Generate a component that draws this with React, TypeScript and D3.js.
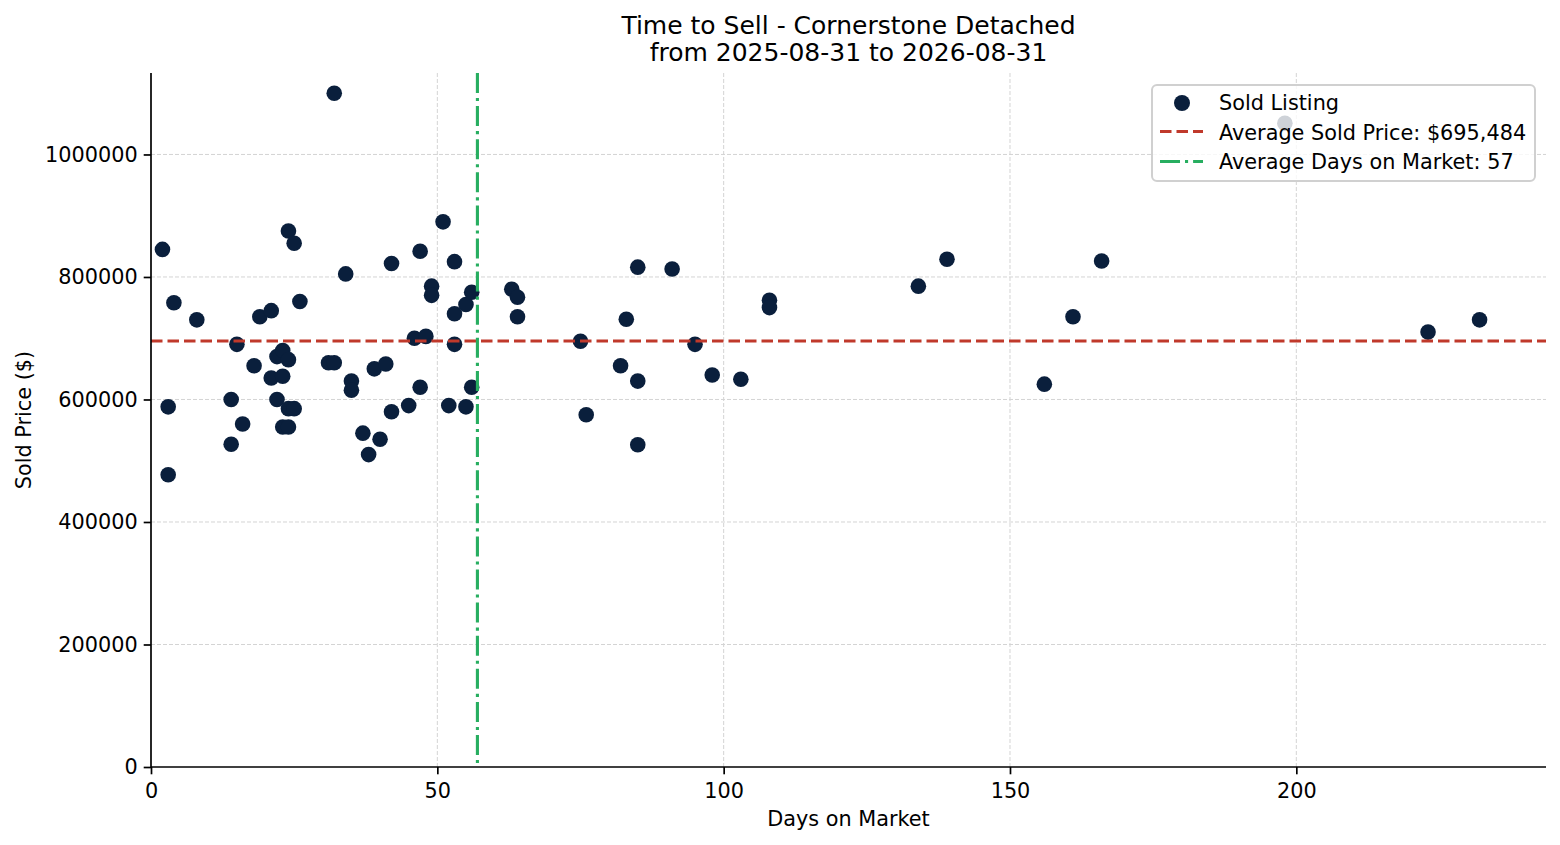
import React, { useEffect, useRef } from 'react';
import * as d3 from 'd3';

// Sold listings: days on market / sold price
const days = [
  2, 3, 3, 4, 8, 14, 14, 15, 16, 18, 19, 21, 21, 22, 22, 23, 23, 23, 24, 24,
  25, 24, 25, 24, 26, 32, 31, 32, 34, 35, 35, 37, 38, 39, 40, 41, 42, 42, 45, 46,
  47, 47, 48, 49, 49, 51, 52, 53, 53, 53, 55, 55, 56, 56, 63, 64, 64, 75, 76, 82,
  83, 85, 85, 85, 91, 95, 98, 103, 108, 108, 134, 139, 156, 161, 166, 198, 223, 232,
];
const prices = [
  845000, 588000, 477000, 758000, 730000, 600000, 527000, 690000, 560000, 655000,
  735000, 745000, 635000, 600000, 670000, 680000, 638000, 555000, 665000, 875000,
  855000, 585000, 585000, 555000, 760000, 1100000, 660000, 660000, 805000, 630000,
  615000, 545000, 510000, 650000, 535000, 658000, 822000, 580000, 590000, 700000,
  842000, 620000, 703000, 785000, 770000, 890000, 590000, 825000, 740000, 690000,
  755000, 588000, 775000, 620000, 780000, 767000, 735000, 695000, 575000, 655000,
  731000, 816000, 630000, 526000, 813000, 690000, 640000, 633000, 762000, 750000,
  785000, 829000, 625000, 735000, 826000, 1051000, 710000, 730000,
];

const avgPrice = 695484;
const avgDays = 57;

const xTicks = [0, 50, 100, 150, 200];
const yTicks = [0, 200000, 400000, 600000, 800000, 1000000];
const xMax = 243.6;
const yMax = 1133000;

const titleLines = ['Time to Sell - Cornerstone Detached', 'from 2025-08-31 to 2026-08-31'];
const legendLabels = [
  'Sold Listing',
  'Average Sold Price: $695,484',
  'Average Days on Market: 57',
];

const W = 1560;
const H = 845;
const FONT = '"DejaVu Sans", sans-serif';
const DOT = '#0a1f3c';
const RED = '#c0392b';
const GREEN = '#27ae60';

const App: React.FC = () => {
  const svgRef = useRef<SVGSVGElement>(null);

  useEffect(() => {
    if (!svgRef.current) return;
    document.body.style.margin = '0';

    const margin = { top: 73, right: 14, bottom: 78, left: 151 };
    const width = W - margin.left - margin.right;
    const height = H - margin.top - margin.bottom;

    const svg = d3.select(svgRef.current);
    svg.selectAll('*').remove();

    const g = svg.append('g').attr('transform', `translate(${margin.left},${margin.top})`);

    const x = d3.scaleLinear().domain([0, xMax]).range([0, width]);
    const y = d3.scaleLinear().domain([0, yMax]).range([height, 0]);

    // grid
    g.append('g')
      .selectAll('line')
      .data(xTicks.slice(1))
      .enter()
      .append('line')
      .attr('x1', (d) => x(d))
      .attr('x2', (d) => x(d))
      .attr('y1', 0)
      .attr('y2', height)
      .attr('stroke', '#d4d4d4')
      .attr('stroke-width', 1)
      .attr('stroke-dasharray', '4,2');
    g.append('g')
      .selectAll('line')
      .data(yTicks.slice(1))
      .enter()
      .append('line')
      .attr('x1', 0)
      .attr('x2', width)
      .attr('y1', (d) => y(d))
      .attr('y2', (d) => y(d))
      .attr('stroke', '#d4d4d4')
      .attr('stroke-width', 1)
      .attr('stroke-dasharray', '4,2');

    // points
    g.append('g')
      .selectAll('circle')
      .data(days.map((d, i) => [d, prices[i]]))
      .enter()
      .append('circle')
      .attr('cx', (d) => x(d[0]))
      .attr('cy', (d) => y(d[1]))
      .attr('r', 7.8)
      .attr('fill', DOT);

    // average lines
    g.append('line')
      .attr('x1', 0)
      .attr('x2', width)
      .attr('y1', y(avgPrice))
      .attr('y2', y(avgPrice))
      .attr('stroke', RED)
      .attr('stroke-width', 3.1)
      .attr('stroke-dasharray', '11.5,5');
    g.append('line')
      .attr('x1', x(avgDays))
      .attr('x2', x(avgDays))
      .attr('y1', 0)
      .attr('y2', height)
      .attr('stroke', GREEN)
      .attr('stroke-width', 3.1)
      .attr('stroke-dasharray', '20,5,3.1,5');

    // axes
    const xAxis = d3.axisBottom(x).tickValues(xTicks).tickSize(7.3).tickPadding(9).tickFormat(d3.format('d'));
    const yAxis = d3.axisLeft(y).tickValues(yTicks).tickSize(7.3).tickPadding(6).tickFormat(d3.format('d'));

    const gx = g.append('g').attr('transform', `translate(0,${height})`).call(xAxis);
    const gy = g.append('g').call(yAxis);
    [gx, gy].forEach((a) => {
      a.select('.domain').attr('stroke', '#000').attr('stroke-width', 1.7);
      a.selectAll('.tick line').attr('stroke', '#000').attr('stroke-width', 1.7);
      a.selectAll('.tick text')
        .attr('fill', '#000')
        .attr('font-family', FONT)
        .attr('font-size', '20.8px');
    });
    gx.select('.domain').attr('d', `M0,0H${width}`);
    gy.select('.domain').attr('d', `M0,${height}V0`);

    // labels
    svg.append('text')
      .attr('x', margin.left + width / 2)
      .attr('y', 826)
      .attr('text-anchor', 'middle')
      .attr('font-family', FONT)
      .attr('font-size', '20.8px')
      .attr('fill', '#000')
      .text('Days on Market');

    svg.append('text')
      .attr('transform', `translate(30.5,${margin.top + height / 2}) rotate(-90)`)
      .attr('text-anchor', 'middle')
      .attr('font-family', FONT)
      .attr('font-size', '20.8px')
      .attr('fill', '#000')
      .text('Sold Price ($)');

    svg.append('g')
      .selectAll('text')
      .data(titleLines)
      .enter()
      .append('text')
      .attr('x', margin.left + width / 2)
      .attr('y', (_, i) => 33.5 + i * 27.5)
      .attr('text-anchor', 'middle')
      .attr('font-family', FONT)
      .attr('font-size', '25px')
      .attr('fill', '#000')
      .text((d) => d);

    // legend
    const lg = svg.append('g').attr('transform', 'translate(1152,85)');
    lg.append('rect')
      .attr('width', 383)
      .attr('height', 96)
      .attr('rx', 5)
      .attr('fill', 'rgba(255,255,255,0.8)')
      .attr('stroke', '#d0d0d0')
      .attr('stroke-width', 2);
    lg.append('circle').attr('cx', 30).attr('cy', 18).attr('r', 8).attr('fill', DOT);
    lg.append('line')
      .attr('x1', 8).attr('x2', 51).attr('y1', 46.5).attr('y2', 46.5)
      .attr('stroke', RED).attr('stroke-width', 3.1).attr('stroke-dasharray', '11.5,5');
    lg.append('line')
      .attr('x1', 8).attr('x2', 51).attr('y1', 76.5).attr('y2', 76.5)
      .attr('stroke', GREEN).attr('stroke-width', 3.1).attr('stroke-dasharray', '20,5,3.1,5');
    lg.selectAll('text.lbl')
      .data(legendLabels)
      .enter()
      .append('text')
      .attr('class', 'lbl')
      .attr('x', 67)
      .attr('y', (_, i) => 25 + i * 29.5)
      .attr('font-family', FONT)
      .attr('font-size', '20.8px')
      .attr('fill', '#000')
      .text((d) => d);
  }, []);

  return (
    <div style={{ position: 'absolute', left: 0, top: 0, width: W, height: H, background: '#fff' }}>
      <svg ref={svgRef} width={W} height={H}></svg>
    </div>
  );
};

export default App;
